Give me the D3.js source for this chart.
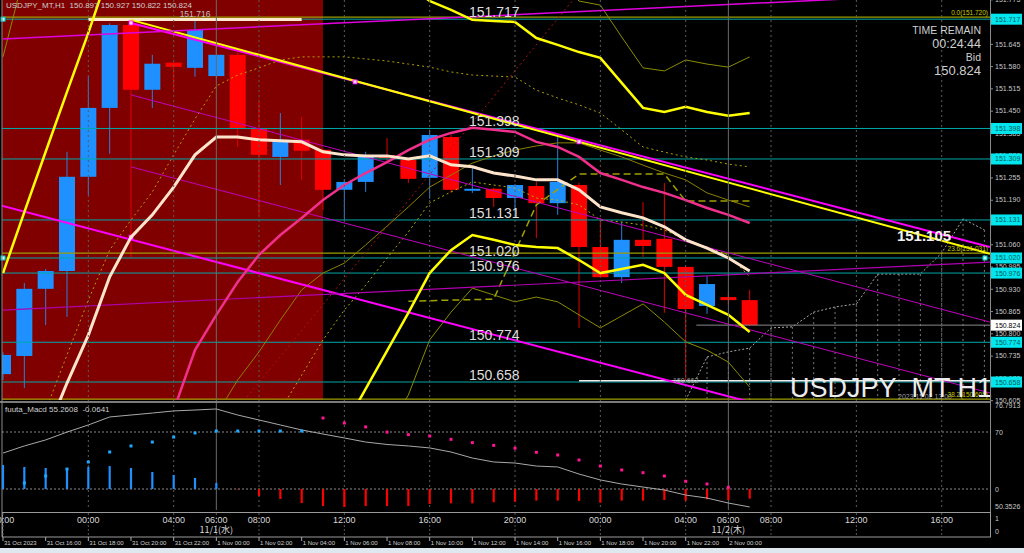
<!DOCTYPE html>
<html><head><meta charset="utf-8">
<script src="https://cdn.jsdelivr.net/npm/d3@7/dist/d3.min.js"></script>
<style>
html,body{margin:0;padding:0;background:#000;overflow:hidden}
svg{display:block;font-family:"Liberation Sans",Arial,sans-serif}
</style></head><body>
<svg id="chart" width="1024" height="553"></svg>
<script>
// ================= DATA =================
const openP =[150.681,150.734,150.930,150.982,151.257,151.458,151.700,151.511,151.590,151.575,151.551,151.613,151.397,151.315,151.365,151.336,151.219,151.242,151.320,151.306,151.254,151.373,151.219,151.222,151.195,151.230,151.180,151.233,151.052,150.964,151.073,151.076,150.994,150.880,150.906,150.897];
const highP =[150.745,150.947,150.988,151.330,151.551,151.705,151.706,151.613,151.590,151.716,151.651,151.620,151.476,151.443,151.432,151.340,151.250,151.330,151.370,151.310,151.394,151.380,151.283,151.225,151.236,151.242,151.373,151.240,151.137,151.125,151.183,151.239,150.996,150.967,150.921,150.927];
const lowP  =[150.664,150.640,150.824,150.848,151.204,151.324,151.020,151.458,151.508,151.549,151.545,151.344,151.146,151.233,151.248,151.160,151.131,151.213,151.297,151.239,151.193,151.210,151.210,151.169,151.140,151.078,151.146,150.816,150.962,150.947,151.023,150.860,150.662,150.857,150.883,150.822];
const closeP=[150.737,150.930,150.982,151.257,151.458,151.700,151.511,151.587,151.578,151.686,151.613,151.397,151.321,151.365,151.333,151.219,151.242,151.315,151.312,151.251,151.379,151.219,151.222,151.195,151.233,151.180,151.242,151.052,150.964,151.073,151.055,150.994,150.871,150.944,150.897,150.824];

const maFast=[null,null,150.503,150.655,150.795,150.965,151.081,151.146,151.227,151.321,151.373,151.373,151.365,151.362,151.359,151.330,151.321,151.318,151.318,151.309,151.318,151.292,151.286,151.268,151.259,151.248,151.248,151.219,151.169,151.152,151.137,151.111,151.073,151.049,151.020,150.982];
const maSlow=[null,null,null,null,null,null,null,null,150.576,150.751,150.854,150.950,151.029,151.087,151.137,151.189,151.233,151.268,151.300,151.335,151.365,151.385,151.400,151.394,151.388,151.359,151.344,151.315,151.268,151.248,151.227,151.210,151.189,151.166,151.146,151.122];
const bandUpper=[150.976,151.154,151.330,151.505,151.677,151.861,null,null,null,null,null,null,null,null,null,null,null,null,null,151.818,151.770,151.744,151.715,151.712,151.709,151.662,151.642,151.621,151.604,151.531,151.458,151.446,151.461,151.446,151.435,151.443];
const bandLower=[null,null,null,null,null,null,null,null,null,null,null,null,null,null,null,null,150.527,150.638,150.749,150.860,150.976,151.043,151.087,151.073,151.058,151.052,151.049,151.014,150.976,150.988,151.000,150.976,150.912,150.883,150.854,150.804];
const bandOuterUpper=[151.607,151.850,null,null,null,null,null,null,null,null,null,null,null,null,null,null,null,null,null,null,null,null,null,null,null,null,151.831,151.770,151.758,151.665,151.575,151.566,151.598,151.586,151.577,151.607];
const bandOuterLower=[null,null,null,null,null,null,null,null,null,null,null,null,null,null,null,null,null,null,150.518,150.620,150.781,150.862,150.932,150.912,150.892,150.906,150.892,150.854,150.816,150.851,150.886,150.833,150.775,150.751,150.716,150.643];
const maOlive=[null,null,null,null,null,null,null,null,null,null,150.562,150.664,150.746,150.839,150.927,150.976,151.005,151.058,151.113,151.169,151.227,151.262,151.297,151.318,151.335,151.347,151.356,151.356,151.335,151.315,151.291,151.268,151.248,151.210,151.189,151.169];
const dotOliveUpper=[null,null,150.576,150.737,150.897,151.043,151.131,151.213,151.321,151.426,151.522,151.554,151.575,151.598,151.607,151.607,151.607,151.601,151.595,151.586,151.577,151.563,151.554,151.551,151.548,151.510,151.487,151.467,151.443,151.394,151.344,151.329,151.315,151.306,151.294,151.286];
const dotOliveLower=[null,null,null,null,null,null,null,null,null,null,null,null,null,150.576,150.678,150.781,150.868,150.941,151.020,151.096,151.181,151.213,151.242,151.233,151.224,151.195,151.189,151.175,151.131,151.125,151.116,151.102,151.073,151.052,151.029,150.965];
const stepIdx =[19,23,25,27,31,32,35];
const stepVals=[150.894,150.900,151.175,151.265,151.265,151.186,151.186];
const cloudIdx =[32,33,34,35,36,37,38,39,40,41,42,43,44,45,46];
const cloudVals=[150.6055,150.731,150.746,150.757,150.816,150.819,150.862,150.877,150.886,150.973,150.973,150.973,151.035,151.134,151.102];

const levelValues=[151.717,151.398,151.309,151.131,151.020,150.976,150.774,150.658];
const fibValues=[151.720,151.031,150.605];
const fibLabels=["0.0(151.720)","23.6(151.031)","38.2(150.605)"];
const currentPrice=150.824;
const sessionEnd=15;
const highMark={from:4,to:14,value:151.716};
const lowMark={from:27,to:46.3,value:150.662};
const trendLines={
  magUpper:[6,151.706,46.26,151.052],
  yelUpper:[6,151.715,46.26,151.032],
  magA:[6,151.496,46.26,150.833],
  magB:[6,151.286,46.26,150.626],
  magLower:[-0.2,151.175,46.26,150.416],
  magTopRise:[0,151.659,46.26,151.796],
  magLowRise:[0,150.868,46.26,151.008],
  redDotted:[11.44,150.614,26.72,151.773]
};
const anchorPts=[[6,151.706],[6,151.081],[16.5,151.534],[27,151.359]];
const priceTicks=[151.775,151.710,151.645,151.580,151.515,151.450,151.385,151.320,151.255,151.190,151.125,151.060,150.995,150.930,150.865,150.800,150.735,150.670,150.605];

const macdHist=[0.159,0.146,0.139,0.139,0.146,0.152,0.139,0.113,0.093,0.073,0.040,-0.003,-0.046,-0.066,-0.093,-0.113,-0.119,-0.113,-0.113,-0.113,-0.099,-0.095,-0.095,-0.088,-0.084,-0.077,-0.077,-0.079,-0.091,-0.077,-0.077,-0.073,-0.077,-0.068,-0.073,-0.064];
const macdSignal=[null,0.040,0.086,0.132,0.179,0.245,0.285,0.311,0.344,0.371,0.384,0.384,0.384,0.384,0.384,0.470,0.437,0.411,0.377,0.360,0.351,0.329,0.307,0.289,0.270,0.243,0.225,0.192,0.152,0.126,0.108,0.086,0.051,0.033,0.011,null];
const macdSignalDir=["u","u","u","u","u","u","u","u","u","u","u","u","u","u","u","d","d","d","d","d","d","d","d","d","d","d","d","d","d","d","d","d","d","d","d","d"];
const macdLine=[0.238,0.285,0.325,0.377,0.424,0.477,0.490,0.503,0.517,0.523,0.530,0.490,0.457,0.424,0.391,0.364,0.338,0.311,0.295,0.285,0.272,0.245,0.205,0.179,0.172,0.152,0.146,0.099,0.060,0.033,0.013,-0.007,-0.040,-0.060,-0.093,-0.119];
const macdLevels=[70,0];

const gridHours=[4,8,12,16,20,24,28,32,36,40,44];
const dayHours=[10,34];
const dayLabels=["11/1(水)","11/2(木)"];
const topTickHours=[0,4,8,10,12,16,20,24,28,32,34,36,40,44];
const topTickLabels=["20:00","00:00","04:00","06:00","08:00","12:00","16:00","20:00","00:00","04:00","06:00","08:00","12:00","16:00"];
const bottomTickHours=[0,2,4,6,8,10,12,14,16,18,20,22,24,26,28,30,32,34];
const bottomTickLabels=["31 Oct 2023","31 Oct 16:00","31 Oct 18:00","31 Oct 20:00","31 Oct 22:00","1 Nov 00:00","1 Nov 02:00","1 Nov 04:00","1 Nov 06:00","1 Nov 08:00","1 Nov 10:00","1 Nov 12:00","1 Nov 14:00","1 Nov 16:00","1 Nov 18:00","1 Nov 20:00","1 Nov 22:00","2 Nov 00:00"];

// ================= SCALES =================
const x=d3.scaleLinear().domain([0,35]).range([3,749.7]);
const y=d3.scaleLinear().domain([150.6055,151.773]).range([400,0]);
const yM=d3.scaleLinear().domain([0,1]).range([489,338]);
const yL=d3.scaleLinear().domain([0,70]).range([489,432]);

const svg=d3.select("#chart");
svg.append("rect").attr("width",1024).attr("height",553).attr("fill","#000");
svg.append("rect").attr("x",0).attr("y",548).attr("width",1024).attr("height",5).attr("fill","#dfe7ef");
const defs=svg.append("defs");
defs.append("clipPath").attr("id","cm").append("rect").attr("x",2).attr("y",0).attr("width",988).attr("height",400);
defs.append("clipPath").attr("id","cs").append("rect").attr("x",2).attr("y",403).attr("width",988).attr("height",107);

// ================= MAIN PANEL =================
const main=svg.append("g").attr("clip-path","url(#cm)");
main.append("rect").attr("x",0).attr("y",0).attr("width",x(sessionEnd)).attr("height",400).attr("fill","#800000");

// grid
const grid=svg.append("g");
grid.selectAll("line.g").data(gridHours).join("line")
  .attr("x1",d=>x(d)).attr("x2",d=>x(d)).attr("y1",0).attr("y2",510)
  .attr("stroke","#5c5c5c").attr("stroke-dasharray","2,3");
grid.selectAll("line.d").data(dayHours).join("line")
  .attr("x1",d=>x(d)).attr("x2",d=>x(d)).attr("y1",0).attr("y2",510)
  .attr("stroke","#6a6a6a");

const lineOf=(arr)=>d3.line().defined(d=>d!=null).x((d,i)=>x(i)).y(d=>y(d))(arr);
const lineXY=(xs,vs)=>d3.line().x((d,k)=>x(xs[k])).y(d=>y(d))(vs);

// candles
const cg=main.append("g");
d3.range(openP.length).forEach(i=>{
  const up=closeP[i]>=openP[i];
  const col=up?"#1E90FF":"#FF0000";
  cg.append("line").attr("x1",x(i)).attr("x2",x(i)).attr("y1",y(highP[i])).attr("y2",y(lowP[i])).attr("stroke",up?"#2a7fd8":"#e00000").attr("stroke-width",1);
  const top=y(Math.max(openP[i],closeP[i])), bot=y(Math.min(openP[i],closeP[i]));
  cg.append("rect").attr("x",x(i)-8).attr("y",top).attr("width",16).attr("height",Math.max(2,bot-top)).attr("fill",col);
});

// cloud (future dotted)
const cl=main.append("g");
cl.selectAll("line").data(cloudIdx.slice(1)).join("line")
  .attr("x1",d=>x(d)).attr("x2",d=>x(d)).attr("y1",(d,k)=>y(cloudVals[k+1])).attr("y2",400)
  .attr("stroke","#9a9a9a").attr("stroke-dasharray","2,3").attr("stroke-width",0.8);
cl.append("path").attr("d",lineXY(cloudIdx,cloudVals)).attr("fill","none").attr("stroke","#a8a8a8").attr("stroke-dasharray","2,2");

// horizontal levels
main.selectAll("line.lv").data(levelValues).join("line")
  .attr("x1",0).attr("x2",990).attr("y1",d=>y(d)).attr("y2",d=>y(d))
  .attr("stroke","#00A8A8").attr("stroke-width",1);
main.selectAll("line.fb").data(fibValues).join("line")
  .attr("x1",0).attr("x2",990).attr("y1",d=>y(d)-1).attr("y2",d=>y(d)-1)
  .attr("stroke","#9c9c00").attr("stroke-width",1.2);
// current price line
main.append("line").attr("x1",x(32.5)).attr("x2",990).attr("y1",y(currentPrice)).attr("y2",y(currentPrice)).attr("stroke","#8a8a8a");
// high / low marks
main.append("line").attr("x1",x(highMark.from)).attr("x2",x(highMark.to)).attr("y1",y(highMark.value)).attr("y2",y(highMark.value)).attr("stroke","#FFE8D0").attr("stroke-width",3);
main.append("line").attr("x1",x(lowMark.from)).attr("x2",x(lowMark.to)).attr("y1",y(lowMark.value)).attr("y2",y(lowMark.value)).attr("stroke","#eeeeee").attr("stroke-width",1.5);

// olive indicator lines
const addPath=(d,stroke,w,dash)=>{const p=main.append("path").attr("d",d).attr("fill","none").attr("stroke",stroke).attr("stroke-width",w);if(dash)p.attr("stroke-dasharray",dash);return p;};
addPath(lineOf(dotOliveUpper),"#b0a000",1,"2,3");
addPath(lineOf(dotOliveLower),"#b0b000",1,"2,3");
addPath(lineOf(maOlive),"#8c8000",1);
addPath(lineOf(bandOuterUpper),"#8c8c00",1);
addPath(lineOf(bandOuterLower),"#8c8c00",1);
addPath(lineXY(stepIdx,stepVals),"#a0a000",1.5,"7,4");

// trend lines
const tStyle={magUpper:["#FF00FF",2,null],yelUpper:["#FFFF00",2,null],magA:["#C000C0",1,null],magB:["#C000C0",1,null],magLower:["#FF00FF",2,null],magTopRise:["#E000E0",1.5,null],magLowRise:["#B000B0",1.2,null],redDotted:["#B01010",1,"2,3"]};
Object.keys(trendLines).forEach(k=>{
  const t=trendLines[k], s=tStyle[k];
  const l=main.append("line").attr("x1",x(t[0])).attr("y1",y(t[1])).attr("x2",x(t[2])).attr("y2",y(t[3])).attr("stroke",s[0]).attr("stroke-width",s[1]);
  if(s[2]) l.attr("stroke-dasharray",s[2]);
});
main.selectAll("rect.an").data(anchorPts).join("rect")
  .attr("x",d=>x(d[0])-2).attr("y",d=>y(d[1])-2).attr("width",4).attr("height",4)
  .attr("fill","#ffd0ff").attr("stroke","#FF00FF").attr("stroke-width",0.8);

// bands and MAs
addPath(lineOf(bandUpper),"#FFFF00",2.5);
addPath(lineOf(bandLower),"#FFFF00",2.5);
addPath(lineOf(maSlow),"#F0308C",2.5);
addPath(lineOf(maFast),"#FFE4CC",3);

// ================= TEXTS MAIN =================
const tx=svg.append("g");
tx.selectAll("text.lv").data(levelValues).join("text")
  .attr("x",469).attr("y",d=>y(d)-2).text(d=>d.toFixed(3))
  .attr("font-size",14).attr("fill","#dedede");
tx.append("text").attr("x",x(9)).attr("y",y(highMark.value)-3).attr("text-anchor","middle").attr("font-size",8.5).attr("fill","#c0c0c0").text(highMark.value.toFixed(3));
tx.append("text").attr("x",x(32)).attr("y",y(lowMark.value)+2).attr("text-anchor","middle").attr("font-size",7).attr("fill","#9a9a9a").text(lowMark.value.toFixed(3));
tx.append("text").attr("x",6).attr("y",8).attr("font-size",8).attr("fill","#cfcfcf").attr("xml:space","preserve").text("USDJPY_MT,H1  150.897 150.927 150.822 150.824");
tx.append("text").attr("x",898).attr("y",y(fibValues[2])-1).attr("font-size",7).attr("fill","#9a9a9a").text("2023.11.02 13:00");
tx.selectAll("text.fb").data(fibValues).join("text")
  .attr("x",988).attr("y",d=>y(d)-3).attr("text-anchor","end").attr("font-size",6.5).attr("fill","#c8c800")
  .text((d,k)=>fibLabels[k]);
tx.append("text").attr("x",981).attr("y",34).attr("text-anchor","end").attr("font-size",10.5).attr("fill","#cfcfcf").text("TIME REMAIN");
tx.append("text").attr("x",981).attr("y",48).attr("text-anchor","end").attr("font-size",12.5).attr("fill","#cfcfcf").text("00:24:44");
tx.append("text").attr("x",981).attr("y",61).attr("text-anchor","end").attr("font-size",10.5).attr("fill","#cfcfcf").text("Bid");
tx.append("text").attr("x",981).attr("y",75).attr("text-anchor","end").attr("font-size",13).attr("fill","#cfcfcf").text(currentPrice.toFixed(3));
tx.append("text").attr("x",x(41.9)).attr("y",y(151.105)+12).attr("font-size",15).attr("font-weight","bold").attr("fill","#f2f2f2").text("151.105");
tx.append("text").attr("x",790).attr("y",397).attr("font-size",27).attr("fill","#ececec").text("USDJPY_MT H1");
// small cyan markers
[[3,y(151.717)],[3,y(151.020)],[985,y(151.020)]].forEach(p=>tx.append("rect").attr("x",p[0]-2).attr("y",p[1]-2).attr("width",4).attr("height",4).attr("fill","#bff").attr("stroke","#0cc"));

// ================= SEPARATOR & MACD =================
svg.append("rect").attr("x",0).attr("y",401).attr("width",991).attr("height",2).attr("fill","#7a7a7a");
svg.append("line").attr("x1",2).attr("x2",2).attr("y1",0).attr("y2",537).attr("stroke","#8a8a8a");
const sub=svg.append("g").attr("clip-path","url(#cs)");
sub.selectAll("line.lvl").data(macdLevels).join("line")
  .attr("x1",2).attr("x2",990).attr("y1",d=>yL(d)).attr("y2",d=>yL(d))
  .attr("stroke","#8c8c8c").attr("stroke-dasharray","2,2");
sub.selectAll("line.h").data(macdHist).join("line")
  .attr("x1",(d,i)=>x(i)).attr("x2",(d,i)=>x(i)).attr("y1",yM(0)).attr("y2",d=>yM(d))
  .attr("stroke",d=>d>=0?"#1E90FF":"#FF0000").attr("stroke-width",2.2);
sub.append("path").attr("d",d3.line().x((d,i)=>x(i)).y(d=>yM(d))(macdLine)).attr("fill","none").attr("stroke","#a8a8a8").attr("stroke-width",1);
sub.selectAll("rect.s").data(macdSignal.map((v,i)=>({v,i})).filter(d=>d.v!=null)).join("rect")
  .attr("x",d=>x(d.i)-1.5).attr("y",d=>yM(d.v)-1.5).attr("width",3).attr("height",3)
  .attr("fill",d=>macdSignalDir[d.i]==="u"?"#1EA8FF":"#FF1493");
svg.append("text").attr("x",5).attr("y",412).attr("font-size",8).attr("fill","#cfcfcf").attr("xml:space","preserve").text("fuuta_Macd 55.2608  -0.0641");

// ================= RIGHT AXIS =================
const ax=svg.append("g").attr("transform","translate(990,0)")
  .call(d3.axisRight(y).tickValues(priceTicks).tickSize(3).tickFormat(d3.format(".3f")));
ax.select(".domain").remove();
ax.selectAll("line").attr("stroke","#8a8a8a");
ax.selectAll("text").attr("x",5).attr("fill","#c8c8c8").attr("font-size",7).attr("font-family","Liberation Sans, Arial, sans-serif");
svg.append("line").attr("x1",990.5).attr("x2",990.5).attr("y1",0).attr("y2",537).attr("stroke","#8a8a8a");
const boxes=svg.append("g");
levelValues.forEach(v=>{
  boxes.append("rect").attr("x",991).attr("y",y(v)-5.5).attr("width",31).attr("height",11).attr("fill","#00E6EE");
  boxes.append("text").attr("x",995).attr("y",y(v)+2.5).attr("font-size",7).attr("fill","#005a5a").text(v.toFixed(3));
});
boxes.append("rect").attr("x",991).attr("y",y(currentPrice)-5.5).attr("width",31).attr("height",11).attr("fill","#ffffff");
boxes.append("text").attr("x",995).attr("y",y(currentPrice)+2.5).attr("font-size",7).attr("fill","#000").text(currentPrice.toFixed(3));
[["76.7913",408],["70",yL(70)+3],["0",yL(0)+3],["50.3526",509],["1",521],["0",534]].forEach(d=>
  svg.append("text").attr("x",995).attr("y",d[1]).attr("font-size",7).attr("fill","#c8c8c8").text(d[0]));

// ================= TIME AXIS =================
svg.append("rect").attr("x",2.5).attr("y",512.5).attr("width",988).attr("height",24.5).attr("fill","none").attr("stroke","#9a9a9a");
svg.selectAll("line.tt").data(topTickHours).join("line")
  .attr("x1",d=>x(d)).attr("x2",d=>x(d)).attr("y1",513).attr("y2",537).attr("stroke","#555").attr("stroke-dasharray","2,2");
svg.selectAll("text.tt").data(topTickHours).join("text")
  .attr("x",d=>x(d)).attr("y",523).attr("text-anchor","middle").attr("font-size",9).attr("fill","#d8d8d8")
  .text((d,k)=>topTickLabels[k]);
svg.selectAll("text.dl").data(dayHours).join("text")
  .attr("x",d=>x(d)).attr("y",533).attr("text-anchor","middle").attr("font-size",9)
  .attr("font-family","'Noto Sans CJK JP',sans-serif").attr("fill","#d8d8d8")
  .text((d,k)=>dayLabels[k]);
svg.selectAll("line.bt").data(bottomTickHours).join("line")
  .attr("x1",d=>x(d)).attr("x2",d=>x(d)).attr("y1",537).attr("y2",541).attr("stroke","#aaa");
svg.selectAll("text.bt").data(bottomTickHours).join("text")
  .attr("x",d=>x(d)+1).attr("y",545).attr("font-size",6).attr("fill","#d0d0d0")
  .text((d,k)=>bottomTickLabels[k]);
</script>
</body></html>
